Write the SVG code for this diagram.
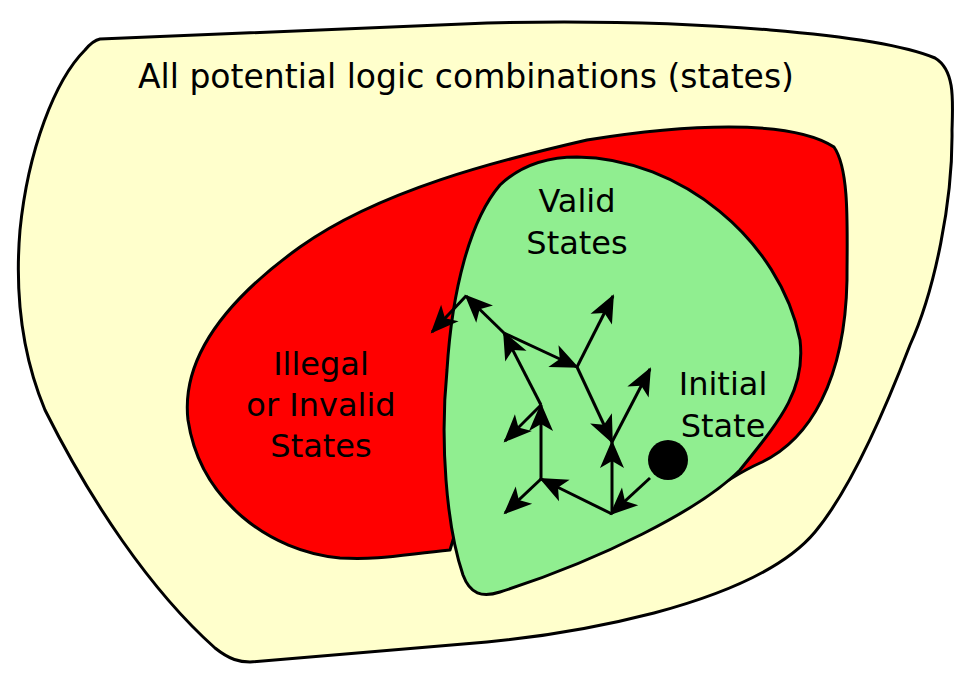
<svg xmlns="http://www.w3.org/2000/svg" width="977" height="681" viewBox="0 0 977 681">
<style>
.region{stroke:#000;stroke-width:3;stroke-linejoin:round}
.lbl{font-family:"DejaVu Sans",sans-serif;font-size:32px;fill:#000;text-anchor:middle}
.arr{stroke:#000;stroke-width:3;fill:none;marker-end:url(#ah)}
</style>
<defs>
<marker id="ah" markerUnits="userSpaceOnUse" markerWidth="34" markerHeight="28" viewBox="0 0 34 28" refX="31" refY="14" orient="auto">
<path d="M33,14 L5,2 L12,14 L5,26 Z" fill="#000"/>
</marker>
</defs>
<rect width="977" height="681" fill="#fff"/>
<g id="all-states">
<path class="region" fill="#ffffcc" d="M100,39 L487,23 C700,18 880,35 935,58 C955,70 953,100 952,130 C953,200 935,290 910,345 C885,410 850,490 815,532 C790,562 740,590 654,613 C600,627 540,637 487,642 L250,662 C240,662 230,660 215,648 C150,590 90,500 45,410 C20,350 15,290 20,230 C28,150 55,80 85,50 C90,44 95,40 100,39 Z"/>
<text class="lbl" x="466" y="88" style="font-size:33px">All potential logic combinations (states)</text>
</g>
<g id="invalid-states">
<path class="region" fill="#ff0000" d="M450,550 C400,555 380,560 340,558 C270,552 200,500 188,420 C180,350 240,290 300,247 C380,190 500,160 587,140 C680,125 790,118 834,147 C850,170 847,230 847,280 C845,380 810,440 760,463 C740,472 730,480 720,485 L600,450 L480,450 Z"/>
<text class="lbl" x="321" y="375">Illegal</text>
<text class="lbl" x="321" y="416">or Invalid</text>
<text class="lbl" x="321" y="457">States</text>
</g>
<g id="valid-states">
<path class="region" fill="#90ee90" d="M577,157 C680,158 780,240 800,340 C806,390 780,420 740,470 C700,510 600,560 500,592 C482,598 470,594 463,575 C446,525 440,440 447,370 C452,290 470,220 500,185 C520,166 545,157 577,157 Z"/>
<text class="lbl" x="577" y="212">Valid</text>
<text class="lbl" x="577" y="254">States</text>
</g>
<g id="initial-state">
<circle cx="668" cy="460" r="20" fill="#000"/>
<text class="lbl" x="723" y="395">Initial</text>
<text class="lbl" x="723" y="437">State</text>
</g>
<g id="connectors">
<path class="arr" d="M650,478 L611,514"/>
<path class="arr" d="M612,514 L612,442"/>
<path class="arr" d="M612,514 L541,479"/>
<path class="arr" d="M541,479 L505,513"/>
<path class="arr" d="M541,479 L541,405"/>
<path class="arr" d="M541,405 L505,441"/>
<path class="arr" d="M541,405 L504,333"/>
<path class="arr" d="M504,333 L577,367"/>
<path class="arr" d="M504,333 L466,296"/>
<path class="arr" d="M466,296 L432,332"/>
<path class="arr" d="M577,367 L613,296"/>
<path class="arr" d="M577,367 L612,442"/>
<path class="arr" d="M612,442 L650,369"/>
</g>
</svg>
